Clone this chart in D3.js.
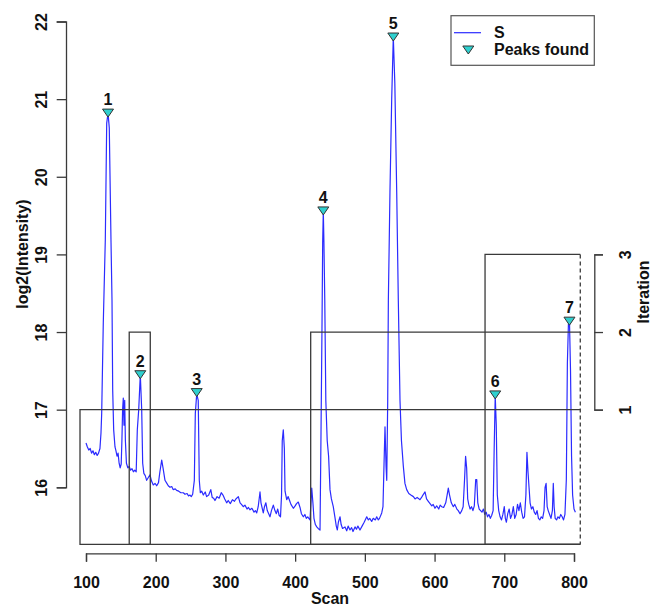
<!DOCTYPE html>
<html lang="en">
<head>
  <meta charset="UTF-8">
  <title>Peak finding iterations</title>
  <style>
    body {
      margin: 0;
      padding: 0;
      background: #fff;
    }
    text {
      font-family: "Liberation Sans", Arial, sans-serif;
      font-weight: bold;
      fill: #111;
    }
  </style>
</head>
<body>
  <script src="https://d3js.org/d3.v7.min.js"></script>
  <script>
    // signal trace S (scan, log2 intensity)
    const scans = [100, 102, 104, 106, 108, 110, 112, 114, 116, 118, 120, 121.5,
      122.5, 124.8, 127.7, 129.7, 131.6, 133.4, 135.9, 137.3, 138.3, 139.7, 141.6, 143, 144.5, 146, 147.5, 149, 150.5,
      151.5, 152.5, 153.5, 154.5, 155.5, 156.5, 158, 160, 162, 164, 166, 168, 170, 172,
      173.6, 175.6, 177.9, 179.9, 181.3, 183, 185, 187, 189, 191.8, 194, 196.5, 199, 201.4, 204, 206, 208.6, 210.5,
      213.3, 216, 218, 220.5, 223, 225, 228, 230, 233, 236, 239.6, 242, 245, 247, 249.2, 251, 253,
      255.4, 256.8, 258.8, 261, 262.5, 264, 266, 268.3, 271, 273, 276, 279, 281, 283, 285, 288, 291, 294, 296.5,
      299, 301.8, 304, 307, 310, 313, 315, 318.5, 321, 323, 325.6, 328, 331, 333, 335.3, 338, 341, 343, 344.9,
      347, 349.6, 351, 354.3, 356, 358, 360, 363.9, 366, 368.7, 371, 373, 375, 377, 379, 380.5, 381.5, 383, 384.5,
      385.5, 387.9, 390, 392, 394, 397.4, 400, 402, 404.5, 407, 409, 411.7, 414, 416, 418, 421.3, 423.8, 425.5,
      427, 429, 431, 433, 435.7, 437.1, 438.5, 439.5, 440.4, 441.3, 442.5, 444, 446, 448, 450, 452, 454.7, 457,
      459, 460.5, 462, 464.4, 466, 468, 471.5, 474, 476, 478.7, 481, 483, 485.9, 488, 490, 493, 496, 499, 502.7,
      505, 507, 509.8, 512, 515, 517, 519.3, 521, 524.2, 526, 527.5, 528.9, 530.4, 531.4, 532.8, 533.7, 536,
      538.5, 540.8, 543, 545.7, 548, 550.4, 552.5, 555.2, 557.5, 560, 563, 566, 569.6, 572, 575, 579.1, 582,
      584, 586.3, 588.5, 591, 593.5, 596, 598, 600.6, 603, 606, 608, 610.3, 613, 616, 618, 619.7, 621.5, 624,
      626.9, 629, 632, 634, 636.5, 639, 641, 643, 644.5, 646, 647.5, 649, 651, 653, 655, 657, 659, 660.5, 662,
      664, 666, 668, 670, 672, 674, 676, 678, 680, 682, 684, 685.5, 687, 688.5, 690, 692, 694, 696, 698, 700,
      701.5, 703, 705, 707, 709, 711, 713, 715, 717, 719, 721, 723, 725, 727, 729, 731, 732.5, 734, 735.5, 737,
      739, 741, 743, 745, 747, 749, 751, 753, 755, 757, 758.5, 760, 761.5, 763, 765, 767, 769, 770.3, 771.5, 773,
      775, 777, 779, 781, 783, 785, 787, 789, 790.5, 792, 793.5, 795, 796.5, 798, 800, 802];
    const intensity = [16.57, 16.52, 16.48, 16.5, 16.44, 16.47, 16.42, 16.45, 16.41, 16.44, 16.5, 16.7,
      16.95, 18.12, 19.19, 20.69, 20.82, 20.63, 19.15, 18.41, 17.25, 16.74, 16.52, 16.47, 16.4, 16.44, 16.31, 16.25, 16.3,
      16.6, 17.0, 17.15, 16.8, 17.12, 16.6, 16.31, 16.25, 16.27, 16.22, 16.24, 16.2, 16.22, 16.2,
      16.74, 17.0, 17.45, 17.0, 16.31, 16.18, 16.15, 16.09, 16.12, 16.16, 16.08, 16.03, 16.05, 16.02, 16.06, 16.2, 16.35, 16.25,
      16.09, 16.05, 16.02, 16.0, 16.01, 15.97, 15.98, 15.96, 15.95, 15.93, 15.93, 15.91, 15.92, 15.89, 15.9, 15.88, 15.91,
      16.09, 16.95, 17.2, 17.12, 16.09, 15.93, 15.95, 15.9, 15.94, 15.88, 15.9, 15.97, 15.87, 15.86, 15.83, 15.88, 15.86, 15.93, 15.9,
      15.85, 15.8, 15.83, 15.79, 15.84, 15.82, 15.85, 15.88, 15.8, 15.78, 15.75, 15.77, 15.72, 15.74, 15.71, 15.73, 15.68, 15.7, 15.67,
      15.75, 15.94, 15.8, 15.67, 15.75, 15.8, 15.7, 15.62, 15.7, 15.77, 15.7, 15.66, 15.72, 15.64, 15.62, 15.9, 16.6, 16.74, 16.5,
      15.95, 15.84, 15.88, 15.83, 15.78, 15.73, 15.76, 15.79, 15.81, 15.74, 15.66, 15.62, 15.65, 15.6, 15.62, 15.58, 15.99, 15.8,
      15.6, 15.52, 15.49, 15.47, 15.45, 16.7, 18.05, 19.15, 19.56, 19.15, 18.41, 17.12, 16.6, 16.4, 15.97, 15.85, 15.75, 15.62,
      15.5, 15.45, 15.55, 15.62, 15.52, 15.47, 15.49, 15.44, 15.5, 15.45, 15.48, 15.43, 15.49, 15.46, 15.5, 15.45, 15.5, 15.55, 15.62,
      15.58, 15.6, 15.56, 15.6, 15.58, 15.62, 15.58, 15.6, 15.67, 15.75, 16.3, 16.78, 16.27, 16.09, 17.12, 18.4, 19.8,
      21.0, 21.8, 21.2, 19.8, 18.4, 17.12, 16.6, 16.27, 16.05, 15.97, 15.92, 15.9, 15.88, 15.85, 15.87, 15.84, 15.88,
      15.91, 15.94, 15.85, 15.82, 15.79, 15.76, 15.78, 15.73, 15.76, 15.72, 15.77, 15.75, 15.74, 15.8, 15.9, 15.99, 15.9, 15.8,
      15.75, 15.78, 15.72, 15.7, 15.66, 15.7, 15.75, 16.1, 16.4, 16.25, 15.85, 15.78, 15.72, 15.75, 15.7, 15.76, 16.1, 16.1, 15.8,
      15.72, 15.7, 15.68, 15.72, 15.65, 15.68, 15.62, 15.65, 15.6, 15.64, 15.7, 16.5, 17.18, 16.8, 15.9, 15.7, 15.62, 15.58, 15.65, 15.75,
      15.6, 15.55, 15.66, 15.72, 15.6, 15.65, 15.75, 15.6, 15.65, 15.78, 15.7, 15.8, 15.68, 15.6, 15.62, 15.9, 16.45, 16.2, 16.0, 15.8,
      15.72, 15.75, 15.68, 15.65, 15.7, 15.6, 15.58, 15.62, 15.6, 15.7, 16.0, 16.05, 15.75, 15.7, 15.65, 15.6, 15.7, 16.05, 15.75, 15.6,
      15.58, 15.62, 15.6, 15.65, 15.62, 15.58, 15.65, 16.1, 17.6, 18.1, 18.14, 17.5, 16.4, 15.9, 15.72, 15.68];

    // peaks found
    const peakLabels = ["1", "2", "3", "4", "5", "6", "7"];
    const peakScans = [131.6, 177.9, 258.8, 440.4, 540.8, 687, 793.5];
    const peakValues = [20.82, 17.45, 17.22, 19.56, 21.8, 17.19, 18.14];

    // search windows per iteration
    const windowStart = [91.4, 162, 422.3, 672.4];
    const windowEnd = [809, 192.2, 809, 809];
    const windowIteration = [1, 2, 2, 3];

    const xTicks = [100, 200, 300, 400, 500, 600, 700, 800];
    const yTicks = [16, 17, 18, 19, 20, 21, 22];
    const iterTicks = [1, 2, 3];
    const yFloor = 15.265;

    const width = 653;
    const height = 607;

    const svg = d3.select('body')
      .append('svg')
      .attr('width', width)
      .attr('height', height);

    const x = d3.scaleLinear().domain([100, 800]).range([86, 574]);
    const y = d3.scaleLinear().domain([16, 22]).range([487.3, 21.5]);
    const iterY = d3.scaleLinear().domain([1, 3]).range([y(17), y(19)]);

    const lineColor = '#2b2bff';
    const frame = '#3a3a3a';
    const rightEdge = d3.max(windowEnd);

    // trace
    const line = d3.line()
      .x((d, i) => x(scans[i]))
      .y(d => y(d));

    svg.append('path')
      .datum(intensity)
      .attr('fill', 'none')
      .attr('stroke', lineColor)
      .attr('stroke-width', 1.2)
      .attr('stroke-linejoin', 'round')
      .attr('d', line);

    // iteration windows (the ones reaching the right edge share a dashed side)
    svg.append('g')
      .selectAll('path')
      .data(windowStart)
      .enter().append('path')
        .attr('fill', 'none')
        .attr('stroke', frame)
        .attr('stroke-width', 1.3)
        .attr('d', (d, i) => {
          const top = iterY(windowIteration[i]);
          const end = windowEnd[i];
          let p = `M${x(end)},${y(yFloor)}H${x(d)}V${top}H${x(end)}`;
          if (end < rightEdge) p += `V${y(yFloor)}`;
          return p;
        });

    svg.append('line')
      .attr('x1', x(rightEdge))
      .attr('x2', x(rightEdge))
      .attr('y1', iterY(d3.max(windowIteration)))
      .attr('y2', y(yFloor))
      .attr('stroke', frame)
      .attr('stroke-width', 1.3)
      .attr('stroke-dasharray', '4,3');

    // peaks
    const tri = 'M-5.5,-4L5.5,-4L0,4Z';
    const peaks = svg.append('g');
    peaks.selectAll('path')
      .data(peakScans)
      .enter().append('path')
        .attr('d', tri)
        .attr('transform', (d, i) => `translate(${x(d)},${y(peakValues[i])})`)
        .attr('fill', '#2fd0cf')
        .attr('stroke', '#333')
        .attr('stroke-width', 1);

    peaks.selectAll('text')
      .data(peakScans)
      .enter().append('text')
        .attr('x', d => x(d))
        .attr('y', (d, i) => y(peakValues[i]) - 8)
        .attr('text-anchor', 'middle')
        .attr('font-size', 16)
        .text((d, i) => peakLabels[i]);

    // axes
    function styleAxis(g) {
      g.attr('color', frame)
        .attr('font-size', 16)
        .attr('font-family', null);
      g.selectAll('path, line').attr('stroke-width', 1.3);
      g.selectAll('text').attr('fill', '#111');
    }

    svg.append('g')
      .attr('transform', 'translate(0,553.3)')
      .call(d3.axisBottom(x).tickValues(xTicks).tickSize(8.4).tickFormat(d3.format('d')))
      .call(styleAxis)
      .call(g => g.selectAll('text').attr('y', 35).attr('dy', null));

    svg.append('g')
      .attr('transform', 'translate(66,0)')
      .call(d3.axisLeft(y).tickValues(yTicks).tickSize(9.3).tickFormat(d3.format('d')))
      .call(styleAxis)
      .call(g => g.selectAll('text')
        .attr('x', 0).attr('y', -19).attr('dy', null)
        .attr('text-anchor', 'middle')
        .attr('transform', 'rotate(-90)'));

    svg.append('g')
      .attr('transform', 'translate(594.3,0)')
      .call(d3.axisRight(iterY).tickValues(iterTicks).tickSize(8.7).tickFormat(d3.format('d')))
      .call(styleAxis)
      .call(g => g.selectAll('text')
        .attr('x', 0).attr('y', 37).attr('dy', null)
        .attr('text-anchor', 'middle')
        .attr('transform', 'rotate(-90)'));

    // axis titles
    svg.append('text')
      .attr('x', 330)
      .attr('y', 604)
      .attr('text-anchor', 'middle')
      .attr('font-size', 16)
      .text('Scan');

    svg.append('text')
      .attr('transform', 'translate(28,254) rotate(-90)')
      .attr('text-anchor', 'middle')
      .attr('font-size', 16)
      .text('log2(Intensity)');

    svg.append('text')
      .attr('transform', 'translate(649,292) rotate(-90)')
      .attr('text-anchor', 'middle')
      .attr('font-size', 16)
      .text('Iteration');

    // legend
    const legend = svg.append('g');
    legend.append('rect')
      .attr('x', 451)
      .attr('y', 15.7)
      .attr('width', 143.3)
      .attr('height', 49.6)
      .attr('fill', '#fff')
      .attr('stroke', '#555')
      .attr('stroke-width', 1.2);
    legend.append('line')
      .attr('x1', 454).attr('x2', 481)
      .attr('y1', 32.7).attr('y2', 32.7)
      .attr('stroke', lineColor)
      .attr('stroke-width', 1.2);
    legend.append('path')
      .attr('d', tri)
      .attr('transform', 'translate(468.3,50)')
      .attr('fill', '#2fd0cf')
      .attr('stroke', '#333');
    legend.append('text')
      .attr('x', 494).attr('y', 38.3)
      .attr('font-size', 16)
      .text('S');
    legend.append('text')
      .attr('x', 494).attr('y', 55)
      .attr('font-size', 16)
      .text('Peaks found');
  </script>
</body>
</html>
